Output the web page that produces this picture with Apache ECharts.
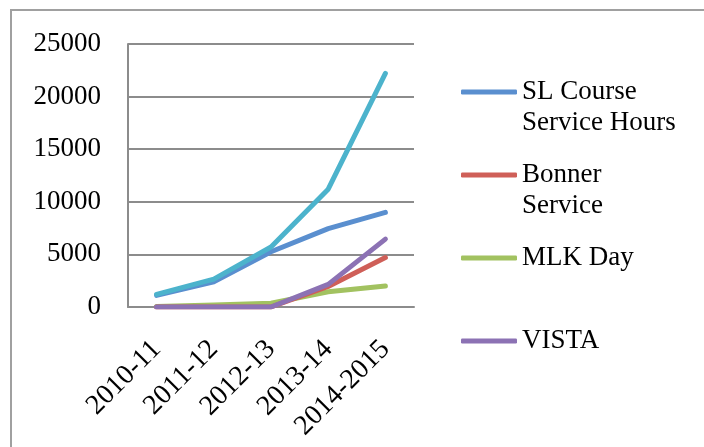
<!DOCTYPE html>
<html>
<head>
<meta charset="utf-8">
<script src="https://cdn.jsdelivr.net/npm/echarts@6/dist/echarts.min.js"></script>
<style>
html,body{margin:0;padding:0;background:#fff;}
#chart{width:704px;height:447px;}
</style>
</head>
<body>
<div id="chart"></div>
<script>
const categories = ['2010-11', '2011-12', '2012-13', '2013-14', '2014-2015'];
const slCourse = [1100, 2400, 5250, 7450, 9000];
const bonner = [0, 0, 0, 1950, 4700];
const mlkDay = [50, 200, 350, 1450, 2000];
const vista = [0, 0, 0, 2150, 6450];
const total = [1200, 2650, 5700, 11200, 22200];
const yTicks = { min: 0, max: 25000, interval: 5000 };

const FONT = 'Liberation Serif';
const colors = {
  sl: '#5A8FCF', bonner: '#CF5F58', mlk: '#A2C260', vista: '#8C72B4', total: '#4CB3CC'
};

function mkSeries(name, data, color, z) {
  return {
    name: name, type: 'line', data: data, symbol: 'none', z: z,
    lineStyle: { color: color, width: 5, cap: 'round', join: 'round' },
    itemStyle: { color: color }
  };
}

const legendNames = ['SL Course\nService Hours', 'Bonner\nService', 'MLK Day', 'VISTA'];
const legendCenters = [92, 175, 258, 341];
const LH = 31;
const legends = legendNames.map(function (n, i) {
  const twoLine = n.indexOf('\n') >= 0;
  const h = twoLine ? LH * 3 : LH;
  return {
    data: [n],
    orient: 'vertical', left: 461, top: legendCenters[i] - h / 2,
    itemWidth: 56, itemHeight: 5, itemGap: 0, padding: 0,
    icon: 'roundRect',
    formatter: function (name) { return name.indexOf('\n') >= 0 ? ' \n' + name : name; },
    textStyle: { fontFamily: FONT, fontSize: 27, color: '#000', lineHeight: LH },
    selectedMode: false
  };
});

const chart = echarts.init(document.getElementById('chart'), null, { renderer: 'canvas' });
chart.setOption({
  animation: false,
  backgroundColor: '#fff',
  graphic: [{
    type: 'rect', shape: { x: 11, y: 10, width: 720, height: 460 },
    style: { fill: 'none', stroke: '#a0a0a0', lineWidth: 2 }, z: -1
  }],
  grid: { left: 128, right: 290, top: 44, bottom: 140, containLabel: false },
  legend: legends,
  xAxis: {
    type: 'category', data: categories, boundaryGap: true,
    axisLine: { show: true, lineStyle: { color: '#8c8c8c', width: 2 } },
    axisTick: { show: false },
    axisLabel: { rotate: 45, margin: 38, interval: 0, fontFamily: FONT, fontSize: 28, color: '#000' }
  },
  yAxis: {
    type: 'value', min: yTicks.min, max: yTicks.max, interval: yTicks.interval,
    axisLine: { show: true, lineStyle: { color: '#8c8c8c', width: 2 } },
    axisTick: { show: false },
    splitLine: { show: true, lineStyle: { color: '#8c8c8c', width: 2 } },
    axisLabel: { margin: 27, fontFamily: FONT, fontSize: 27, color: '#000', formatter: function (v) { return String(v); } }
  },
  series: [
    mkSeries('SL Course\nService Hours', slCourse, colors.sl, 5),
    mkSeries('Bonner\nService', bonner, colors.bonner, 3),
    mkSeries('MLK Day', mlkDay, colors.mlk, 2),
    mkSeries('VISTA', vista, colors.vista, 4),
    mkSeries('Total', total, colors.total, 6)
  ]
});
</script>
</body>
</html>
